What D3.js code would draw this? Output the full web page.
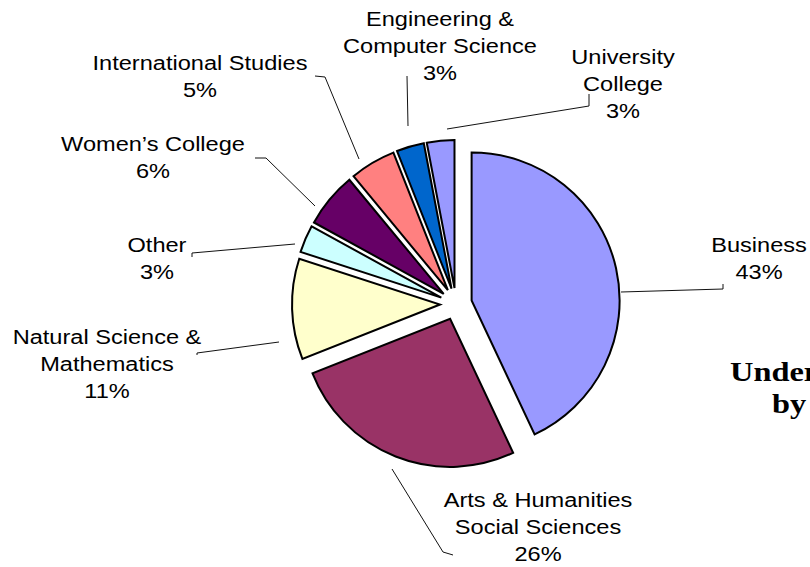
<!DOCTYPE html>
<html>
<head>
<meta charset="utf-8">
<script src="https://cdnjs.cloudflare.com/ajax/libs/d3/7.8.5/d3.min.js"></script>
<style>
  body { margin: 0; background: #fff; }
  svg { display: block; }
  .lbl { font-family: Arial, "Liberation Sans", sans-serif; font-size: 19.5px; fill: #000; }
  .title { font-family: "Times New Roman", "Liberation Serif", serif; font-size: 27px; font-weight: bold; fill: #000; }
  .leader { fill: none; stroke: #111; stroke-width: 1px; }
</style>
</head>
<body>
<div id="chart"></div>
<script>
  // data, clockwise from 12 o'clock
  var schools = ["Business", "Arts & Humanities\nSocial Sciences", "Natural Science &\nMathematics",
                 "Other", "Women\u2019s College", "International Studies",
                 "Engineering &\nComputer Science", "University\nCollege"];
  var shares = [43, 26, 11, 3, 6, 5, 3, 3];
  var colors = ["#9999FF", "#993366", "#FFFFCC", "#CCFFFF", "#660066", "#FF8080", "#0066CC", "#9999FF"];

  // label layout (centre x, first baseline y) and leader lines
  var labelPos = [[759, 252], [538, 507], [107, 344], [157, 252],
                  [153, 151], [200, 70], [440, 26], [623, 64]];
  var leaders = [
    [[621, 292], [723, 289], [723, 284]],
    [[392, 469], [443, 552], [453, 555]],
    [[197, 355], [197, 353], [279, 342]],
    [[192, 257], [192, 253], [295, 244]],
    [[255, 158], [266, 158], [315, 206]],
    [[315, 76], [325, 77], [359, 159]],
    [[407, 76], [408, 126]],
    [[447, 129], [589, 106], [589, 94]]
  ];

  var width = 810, height = 567;
  var cx = 456, cy = 304, radius = 148, explode = 16;

  var svg = d3.select("#chart").append("svg")
              .attr("width", width)
              .attr("height", height);

  var pie = d3.pie().sort(null).value(function(d) { return d; });
  var arc = d3.arc().innerRadius(0).outerRadius(radius);
  var slices = pie(shares);

  var g = svg.append("g").attr("transform", "translate(" + cx + "," + cy + ")");
  g.selectAll("path.slice")
   .data(slices)
   .enter().append("path")
   .attr("class", "slice")
   .attr("d", arc)
   .attr("fill", function(d, i) { return colors[i]; })
   .attr("stroke", "#000")
   .attr("stroke-width", 2)
   .attr("stroke-linejoin", "miter")
   .attr("transform", function(d) {
     var mid = (d.startAngle + d.endAngle) / 2;
     return "translate(" + (explode * Math.sin(mid)) + "," + (-explode * Math.cos(mid)) + ")";
   });

  // leader lines
  var line = d3.line();
  svg.selectAll("path.leader")
     .data(leaders)
     .enter().append("path")
     .attr("class", "leader")
     .attr("d", line);

  // labels
  var labels = svg.selectAll("text.lbl")
     .data(schools)
     .enter().append("text")
     .attr("class", "lbl")
     .attr("text-anchor", "middle")
     .attr("transform", function(d, i) {
       return "translate(" + labelPos[i][0] + "," + labelPos[i][1] + ") scale(1.21,1)";
     });
  labels.each(function(d, i) {
    var lines = d.split("\n").concat([shares[i] + "%"]);
    var t = d3.select(this);
    lines.forEach(function(s, k) {
      t.append("tspan").attr("x", 0).attr("dy", k === 0 ? 0 : 27).text(s);
    });
  });

  // chart title, running off the right edge
  svg.append("text").attr("class", "title")
     .attr("transform", "translate(730,381) scale(1.2,1)")
     .text("Undergraduate Enrollment");
  svg.append("text").attr("class", "title")
     .attr("transform", "translate(772,413) scale(1.2,1)")
     .text("by College");
</script>
</body>
</html>
